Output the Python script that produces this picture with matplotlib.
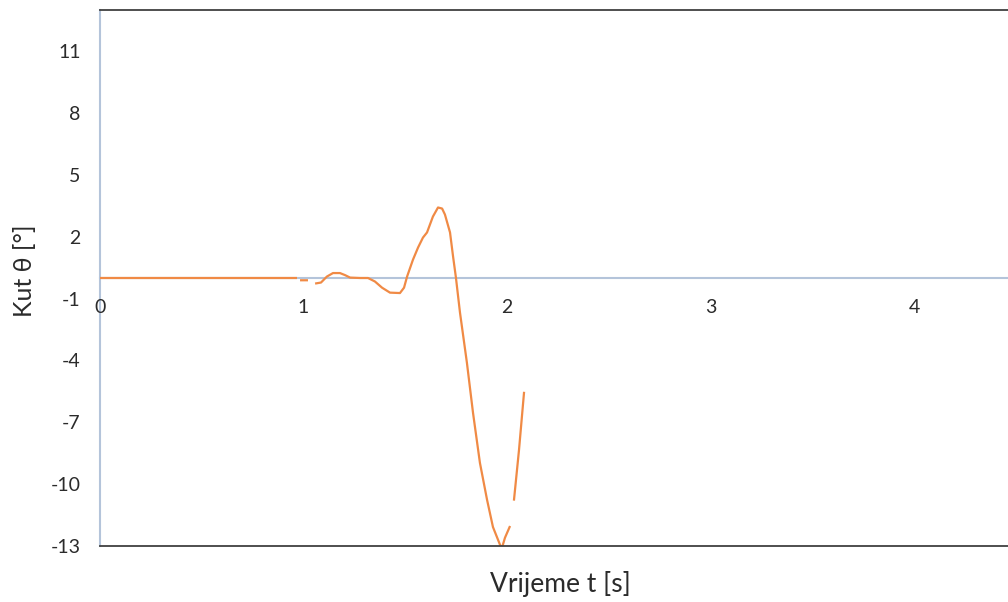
import numpy as np
import matplotlib
matplotlib.use("Agg")
import matplotlib.pyplot as plt
from matplotlib.lines import Line2D

# Data (NaN = gap in the line)
t = [0.0, 0.968, np.nan,
     0.983, 1.022, np.nan,
     1.057, 1.086, 1.115, 1.145, 1.179, 1.204, 1.229, 1.278, 1.317, 1.351, 1.386,
     1.425, 1.474, 1.494, 1.509, 1.538, 1.563, 1.587, 1.607, 1.636, 1.661, 1.681,
     1.695, 1.720, 1.735, 1.749, 1.769, 1.803, 1.833, 1.867, 1.902, 1.931, 1.966,
     1.975, 1.990, 2.015, np.nan,
     2.034, 2.059, 2.084]
theta = [0.0, 0.0, np.nan,
         -0.11, -0.11, np.nan,
         -0.27, -0.22, 0.07, 0.24, 0.24, 0.14, 0.02, 0.0, 0.0, -0.17, -0.47,
         -0.71, -0.73, -0.47, 0.07, 0.89, 1.48, 1.96, 2.21, 2.98, 3.42, 3.37,
         3.08, 2.21, 1.04, 0.02, -1.68, -4.11, -6.54, -8.97, -10.76, -12.08, -12.95,
         -13.1, -12.6, -12.03, np.nan,
         -10.8, -8.34, -5.52]

xticks = [0, 1, 2, 3, 4]
yticks = [-13, -10, -7, -4, -1, 2, 5, 8, 11]

plt.rcParams['font.family'] = ['Lato', 'DejaVu Sans']

fig = plt.figure(figsize=(10.08, 6.02), dpi=100)
ax = fig.add_axes([100 / 1008, 56 / 602, 915.75 / 1008, 536 / 602])

ax.plot(t, theta, color='#F08A45', lw=1.6, solid_capstyle='butt', zorder=5,
        clip_on=True)

ax.set_xlim(0, 4.5)
ax.set_ylim(-13, 13)

axis_col = '#B4C4DA'
border_col = '#404040'
text_col = '#2b2b2b'

ax.spines['right'].set_visible(False)
ax.spines['top'].set_color(border_col)
ax.spines['top'].set_linewidth(1.3)
ax.spines['left'].set_color(axis_col)
ax.spines['left'].set_linewidth(1.5)
ax.spines['bottom'].set_position(('data', 0))
ax.spines['bottom'].set_color(axis_col)
ax.spines['bottom'].set_linewidth(1.5)
for s in ax.spines.values():
    s.set_zorder(1)

# plot-area bottom border
ax.add_line(Line2D([0, 1], [0, 0], transform=ax.transAxes, color=border_col,
                   lw=1.3, clip_on=False, zorder=6))

ax.set_xticks(xticks)
ax.set_xticklabels([str(v) for v in xticks])
ax.set_yticks(yticks)
ax.set_yticklabels([str(v) for v in yticks])
ax.tick_params(axis='x', length=0, pad=15, labelsize=14, labelcolor=text_col)
ax.tick_params(axis='y', length=0, pad=14, labelsize=14, labelcolor=text_col)

ax.set_xlabel('Vrijeme t [s]', fontsize=19, color=text_col)
ax.xaxis.set_label_coords((560 - 100) / 915.75, -25 / 536)
ax.set_ylabel('Kut θ [°]', fontsize=18, color=text_col)
ax.yaxis.set_label_coords(-64 / 915.75, (546 - 271) / 536)

fig.savefig('out.png', dpi=100)
